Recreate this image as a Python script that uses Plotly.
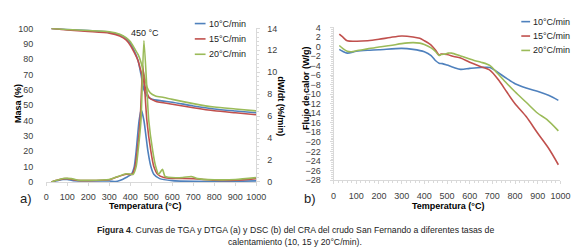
import plotly.graph_objects as go

W, H = 580, 249

series_names = ["10°C/min", "15°C/min", "20°C/min"]
series_colors = ["#4F81BD", "#C0504D", "#9BBB59"]

# --- TGA (Masa %) ---
tga_T_10 = [25, 100, 200, 300, 350, 380, 400, 420, 437, 451, 465, 480, 500, 550, 600, 700, 800, 900, 1000]
tga_10 = [100, 99.3, 98.5, 97.5, 95.8, 93.5, 90.5, 85, 79, 70, 60, 56, 54, 52.8, 51.9, 49.5, 47.5, 46.2, 45]
tga_T_15 = [25, 100, 200, 300, 350, 380, 400, 420, 437, 451, 465, 474, 490, 520, 600, 700, 800, 900, 1000]
tga_15 = [100, 99, 98, 96.9, 95, 92.5, 89, 84, 79, 72, 65, 60, 55, 52.5, 50.6, 48.3, 46.3, 45, 43.75]
tga_T_20 = [25, 100, 200, 300, 350, 380, 400, 420, 437, 451, 465, 479, 495, 520, 560, 600, 700, 800, 900, 1000]
tga_20 = [100, 99.3, 98.6, 97.8, 96.2, 94, 91.5, 87, 83, 78, 70, 62, 58, 56, 55, 53.75, 51, 48.75, 47.5, 46.25]

# --- DTGA (dW/dt %/min) ---
dtg_T_10 = [25, 50, 80, 100, 130, 200, 300, 330, 350, 380, 405, 419, 428, 442, 452, 465, 484, 498, 512, 540, 600, 700, 800, 900, 1000]
dtg_10 = [0, 0.1, 0.22, 0.22, 0.12, 0.08, 0.08, 0.03, 0.12, 0.4, 0.7, 1.4, 2.8, 5.6, 6.6, 5.6, 2.8, 1.4, 0.7, 0.3, 0.12, 0.05, 0.04, 0.05, 0.1]
dtg_T_15 = [25, 50, 80, 100, 120, 150, 200, 300, 330, 380, 409, 423, 433, 447, 460, 479, 498, 512, 530, 560, 600, 700, 800, 900, 1000]
dtg_15 = [0, 0.15, 0.28, 0.3, 0.25, 0.14, 0.12, 0.2, 0.4, 0.7, 0.7, 1.4, 2.8, 5.6, 10.6, 5.6, 2.8, 1.4, 0.7, 0.4, 0.32, 0.3, 0.15, 0.15, 0.3]
dtg_T_20 = [25, 50, 80, 100, 120, 150, 200, 300, 330, 380, 414, 428, 437, 451, 465, 488, 507, 521, 535, 553, 565, 580, 650, 690, 720, 800, 900, 1000]
dtg_20 = [0, 0.15, 0.32, 0.32, 0.3, 0.16, 0.14, 0.22, 0.42, 0.75, 0.7, 1.4, 2.8, 5.6, 12.9, 5.6, 2.8, 1.4, 0.7, 1.15, 0.5, 0.42, 0.4, 0.5, 0.3, 0.2, 0.22, 0.4]

# --- DSC (Flujo de calor W/g) ---
dsc_T_10 = [25, 40, 60, 100, 150, 200, 300, 350, 400, 430, 450, 465, 480, 500, 530, 560, 600, 650, 690, 720, 763, 800, 849, 905, 950, 991]
dsc_10 = [-0.6, -1.0, -1.4, -1.0, -0.8, -0.7, -0.4, -0.6, -1.1, -1.9, -3.0, -3.5, -3.6, -3.9, -4.4, -4.8, -4.6, -4.4, -4.4, -5.3, -6.7, -7.8, -8.7, -9.5, -10.3, -11.3]
dsc_T_15 = [25, 40, 60, 100, 150, 200, 250, 300, 350, 380, 400, 430, 450, 465, 474, 500, 530, 560, 600, 647, 690, 730, 763, 800, 849, 900, 950, 991]
dsc_15 = [2.6, 2.0, 1.2, 1.1, 1.2, 1.5, 1.9, 2.2, 2.0, 1.7, 1.2, 0.3, -0.8, -1.8, -1.6, -1.7, -2.1, -2.4, -3.3, -4.2, -5.0, -7.2, -9.5, -12.0, -14.7, -18.2, -21.5, -24.8]
dsc_T_20 = [25, 40, 60, 80, 100, 150, 200, 250, 300, 350, 380, 400, 430, 450, 465, 474, 490, 505, 520, 560, 617, 650, 690, 720, 763, 800, 849, 900, 940, 991]
dsc_20 = [0.2, -0.4, -1.0, -1.1, -0.9, -0.5, -0.1, 0.2, 0.6, 0.8, 0.7, 0.4, -0.3, -1.1, -1.9, -1.7, -1.6, -1.4, -1.4, -2.0, -2.9, -3.3, -4.0, -5.5, -7.7, -9.5, -11.7, -14.0, -15.3, -17.7]

x_ticks = list(range(0, 1001, 100))
masa_ticks = list(range(0, 101, 10))
dtg_ticks = list(range(0, 15, 2))
dsc_ticks = list(range(-28, 5, 2))

FONT = "Liberation Sans, Arial, sans-serif"
TICKC = "#404040"
LINEC = "#D9D9D9"

def px(x):
    return x / W

def py(y):
    return 1 - y / H

fig = go.Figure()
tga = [(tga_T_10, tga_10), (tga_T_15, tga_15), (tga_T_20, tga_20)]
dtg = [(dtg_T_10, dtg_10), (dtg_T_15, dtg_15), (dtg_T_20, dtg_20)]
dsc = [(dsc_T_10, dsc_10), (dsc_T_15, dsc_15), (dsc_T_20, dsc_20)]

for i in range(3):
    fig.add_trace(go.Scatter(x=tga[i][0], y=tga[i][1], mode="lines", line=dict(color=series_colors[i], width=1.6, shape="spline", smoothing=0.6),
                             xaxis="x", yaxis="y", showlegend=False))
for i in range(3):
    fig.add_trace(go.Scatter(x=dtg[i][0], y=dtg[i][1], mode="lines", line=dict(color=series_colors[i], width=1.6, shape="spline", smoothing=0.6),
                             xaxis="x", yaxis="y2", showlegend=False))
for i in range(3):
    fig.add_trace(go.Scatter(x=dsc[i][0], y=dsc[i][1], mode="lines", line=dict(color=series_colors[i], width=1.6, shape="spline", smoothing=0.8),
                             xaxis="x2", yaxis="y3", showlegend=False))

tickfont = dict(family=FONT, size=9, color=TICKC)

fig.update_layout(
    width=W, height=H, margin=dict(l=0, r=0, t=0, b=0),
    paper_bgcolor="white", plot_bgcolor="white",
    font=dict(family=FONT, size=9, color="#000"),
    xaxis=dict(domain=[px(36), px(251)], range=[0, 1000], tickvals=x_ticks, anchor="y",
               showline=True, linecolor=LINEC, linewidth=1, showgrid=False, zeroline=False,
               ticks="outside", ticklen=3, tickcolor=LINEC, tickfont=tickfont, ticklabelstandoff=3),
    yaxis=dict(domain=[py(176), py(16)], range=[0, 100], tickvals=masa_ticks, anchor="x",
               showline=False, showgrid=False, zeroline=False, tickfont=tickfont, ticklabelstandoff=12),
    yaxis2=dict(overlaying="y", side="right", range=[0, 14], tickvals=dtg_ticks, anchor="x",
                showline=True, linecolor=LINEC, showgrid=False, zeroline=False,
                ticks="outside", ticklen=3, tickcolor=LINEC, tickfont=tickfont, ticklabelstandoff=5,
                minor=dict(ticks="outside", ticklen=2, tickcolor=LINEC, dtick=0.4)),
    xaxis2=dict(domain=[px(330), px(562)], range=[0, 1000], tickvals=x_ticks, anchor="y3",
                showline=True, linecolor=LINEC, showgrid=False, zeroline=False,
                ticks="outside", ticklen=3, tickcolor=LINEC, tickfont=tickfont, ticklabelstandoff=4,
                minor=dict(ticks="outside", ticklen=2, tickcolor=LINEC, dtick=20)),
    yaxis3=dict(domain=[py(174), py(15)], range=[-28, 4], tickvals=dsc_ticks, anchor="x2",
                showline=True, linecolor=LINEC, showgrid=False, zeroline=False,
                ticks="outside", ticklen=3, tickcolor=LINEC, tickfont=tickfont, ticklabelstandoff=7,
                minor=dict(ticks="outside", ticklen=2, tickcolor=LINEC, dtick=0.4)),
)

ann = []
def text(x, y, s, size=9, bold=False, angle=0, xanchor="center", color="#000"):
    ann.append(dict(x=px(x), y=py(y), xref="paper", yref="paper", text=("<b>%s</b>" % s) if bold else s,
                    showarrow=False, textangle=angle, xanchor=xanchor, yanchor="middle",
                    font=dict(family=FONT, size=size, color=color)))

text(7, 94, "Masa (%)", bold=True, angle=-90)
text(276, 97, "dW/dt (%/min)", bold=True, angle=90)
text(137, 201, "Temperatura (°C)", bold=True)
text(447, 201, "Temperatura (°C)", bold=True)
text(302, 78, "Flujo de calor (W/g)", bold=True, angle=-90)
text(15, 193, "a)", size=13, color="#222")
text(306, 193, "b)", size=13, color="#222")
text(137, 21, "450 °C", size=9, color="#222")
text(291, 226, "<b>Figura 4</b>. Curvas de TGA y DTGA (a) y DSC (b) del CRA del crudo San Fernando a diferentes tasas de", size=8.7, color="#222")
text(291, 239, "calentamiento (10, 15 y 20°C/min).", size=8.7, color="#222")

shapes = []
legend_specs = [(188, 199, [11, 27, 43]), (522, 531, [9, 24, 39])]
for (x0, x1, ys) in legend_specs:
    for i, yy in enumerate(ys):
        shapes.append(dict(type="line", xref="paper", yref="paper", x0=px(x0), x1=px(x1), y0=py(yy), y1=py(yy),
                           line=dict(color=series_colors[i], width=1.6)))
        text(x1 + 1, yy, series_names[i], size=9, xanchor="left", color="#222")

fig.update_layout(annotations=ann, shapes=shapes)
fig.write_html("out.html", config={"displayModeBar": False})
